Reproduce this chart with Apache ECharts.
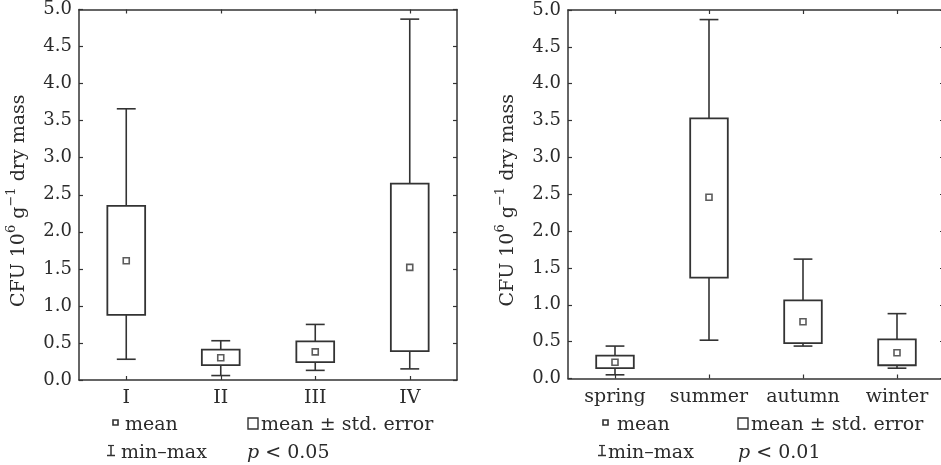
<!DOCTYPE html>
<html><head><meta charset="utf-8">
<script src="https://cdn.jsdelivr.net/npm/echarts@6/dist/echarts.min.js"></script>
<style>html,body{margin:0;padding:0;background:#fff}#c{width:941px;height:465px}</style>
</head><body><div id="c"></div>
<script>
const groups = ['I', 'II', 'III', 'IV'];
const groupMin = [0.28, 0.06, 0.13, 0.15];
const groupSeLow = [0.88, 0.20, 0.24, 0.39];
const groupMean = [1.61, 0.30, 0.38, 1.52];
const groupSeHigh = [2.35, 0.41, 0.52, 2.65];
const groupMax = [3.66, 0.53, 0.75, 4.87];

const seasons = ['spring', 'summer', 'autumn', 'winter'];
const seasonMin = [0.05, 0.52, 0.44, 0.14];
const seasonSeLow = [0.14, 1.37, 0.48, 0.18];
const seasonMean = [0.22, 2.46, 0.77, 0.35];
const seasonSeHigh = [0.31, 3.53, 1.06, 0.53];
const seasonMax = [0.44, 4.87, 1.62, 0.88];

const yTicks = [0, 0.5, 1, 1.5, 2, 2.5, 3, 3.5, 4, 4.5, 5];
const pLeft = '< 0.05';
const pRight = '< 0.01';

const FONT = '"DejaVu Serif", "Liberation Serif", serif';
const INK = '#2b2b2b';
const LINE = '#333';

function boxData(mins, lows, means, highs, maxs) {
  return mins.map((m, i) => [i, m, lows[i], highs[i], maxs[i]]);
}
function meanData(means) { return means.map((v, i) => [i, v]); }

function renderBox(params, api) {
  const i = api.value(0);
  const pMin = api.coord([i, api.value(1)]);
  const pLow = api.coord([i, api.value(2)]);
  const pHigh = api.coord([i, api.value(3)]);
  const pMax = api.coord([i, api.value(4)]);
  const band = api.size([1, 0])[0];
  const bw = band * 0.40, cw = band * 0.20;
  const x = pMin[0];
  const st = { stroke: LINE, lineWidth: 1.6, fill: null };
  return {
    type: 'group',
    children: [
      { type: 'line', shape: { x1: x, y1: pMax[1], x2: x, y2: pHigh[1] }, style: st },
      { type: 'line', shape: { x1: x, y1: pLow[1], x2: x, y2: pMin[1] }, style: st },
      { type: 'line', shape: { x1: x - cw / 2, y1: pMax[1], x2: x + cw / 2, y2: pMax[1] }, style: st },
      { type: 'line', shape: { x1: x - cw / 2, y1: pMin[1], x2: x + cw / 2, y2: pMin[1] }, style: st },
      { type: 'rect', shape: { x: x - bw / 2, y: pHigh[1], width: bw, height: pLow[1] - pHigh[1] }, style: { stroke: LINE, lineWidth: 1.8, fill: '#fff' } }
    ]
  };
}

function catAxis(gridIndex, cats, top) {
  return {
    type: 'category', gridIndex: gridIndex, data: cats, position: top ? 'top' : 'bottom',
    boundaryGap: true,
    axisLine: { show: true, onZero: false, lineStyle: { color: LINE, width: 1.5 } },
    axisTick: { show: true, inside: true, alignWithLabel: true, length: 4, lineStyle: { color: LINE, width: 1.2 } },
    axisLabel: { show: !top, interval: 0, hideOverlap: false, color: INK, fontFamily: FONT, fontSize: 19, margin: 9 },
    splitLine: { show: false }
  };
}
function valAxis(gridIndex, right, withName) {
  const ax = {
    type: 'value', gridIndex: gridIndex, position: right ? 'right' : 'left',
    min: 0, max: 5, interval: 0.5,
    axisLine: { show: true, lineStyle: { color: LINE, width: 1.5 } },
    axisTick: { show: true, inside: true, length: 4, lineStyle: { color: LINE, width: 1.2 } },
    axisLabel: { show: !right, color: INK, fontFamily: FONT, fontSize: 18, margin: 7, formatter: v => v.toFixed(1) },
    splitLine: { show: false }
  };
  if (withName) {
    ax.name = '{a|CFU 10}{s|6}{a| g}{s|\u22121}{a| dry mass}';
    ax.nameLocation = 'middle';
    ax.nameRotate = 90;
    ax.nameGap = 50;
    ax.nameTextStyle = {
      color: INK, fontFamily: FONT, fontSize: 19, padding: [0, 12, 0, 0],
      rich: {
        a: { fontFamily: FONT, fontSize: 19, color: INK, verticalAlign: 'bottom', lineHeight: 24 },
        s: { fontFamily: FONT, fontSize: 13, color: INK, verticalAlign: 'top', lineHeight: 24 }
      }
    };
  }
  return ax;
}

function legend(xSq, xMeanTxt, xRect, xRectTxt, xI, xITxt, xP, pText) {
  const ts = { fill: INK, font: '19px ' + FONT };
  return [
    { type: 'rect', shape: { x: xSq, y: 420, width: 5, height: 5 }, style: { fill: '#fff', stroke: LINE, lineWidth: 1.6 } },
    { type: 'text', x: xMeanTxt, y: 425.5, style: Object.assign({ text: 'mean', textVerticalAlign: 'middle' }, ts) },
    { type: 'rect', shape: { x: xRect, y: 418, width: 10, height: 11 }, style: { fill: '#fff', stroke: LINE, lineWidth: 1.4 } },
    { type: 'text', x: xRectTxt, y: 425.5, style: Object.assign({ text: 'mean \u00b1 std. error', textVerticalAlign: 'middle' }, ts) },
    { type: 'line', shape: { x1: xI + 4, y1: 445, x2: xI + 4, y2: 456 }, style: { stroke: LINE, lineWidth: 1.5 } },
    { type: 'line', shape: { x1: xI + 1, y1: 445.5, x2: xI + 7, y2: 445.5 }, style: { stroke: LINE, lineWidth: 1.2 } },
    { type: 'line', shape: { x1: xI, y1: 455.5, x2: xI + 8, y2: 455.5 }, style: { stroke: LINE, lineWidth: 1.5 } },
    { type: 'text', x: xITxt, y: 453.5, style: Object.assign({ text: 'min\u2013max', textVerticalAlign: 'middle' }, ts) },
    { type: 'text', x: xP, y: 453.5, style: {
        text: '{i|p} {n|' + pText + '}', textVerticalAlign: 'middle', fill: INK, font: '19px ' + FONT,
        rich: { i: { fontFamily: FONT, fontSize: 19, fontStyle: 'italic', fill: INK }, n: { fontFamily: FONT, fontSize: 19, fill: INK } }
      } }
  ];
}

const chart = echarts.init(document.getElementById('c'), null, { renderer: 'canvas' });
chart.setOption({
  backgroundColor: '#fff',
  animation: false,
  grid: [
    { left: 79, top: 9.5, width: 378, height: 370.5, outerBoundsMode: 'none' },
    { left: 568, top: 10, width: 376, height: 368.5, outerBoundsMode: 'none' }
  ],
  xAxis: [catAxis(0, groups, false), catAxis(0, groups, true), catAxis(1, seasons, false), catAxis(1, seasons, true)],
  yAxis: [valAxis(0, false, true), valAxis(0, true, false), valAxis(1, false, true), valAxis(1, true, false)],
  series: [
    { type: 'custom', xAxisIndex: 0, yAxisIndex: 0, renderItem: renderBox, data: boxData(groupMin, groupSeLow, groupMean, groupSeHigh, groupMax), encode: { x: 0, y: [1, 2, 3, 4] } },
    { type: 'scatter', xAxisIndex: 0, yAxisIndex: 0, symbol: 'rect', symbolSize: 6, itemStyle: { color: '#fff', borderColor: LINE, borderWidth: 1.6 }, data: meanData(groupMean) },
    { type: 'custom', xAxisIndex: 2, yAxisIndex: 2, renderItem: renderBox, data: boxData(seasonMin, seasonSeLow, seasonMean, seasonSeHigh, seasonMax), encode: { x: 0, y: [1, 2, 3, 4] } },
    { type: 'scatter', xAxisIndex: 2, yAxisIndex: 2, symbol: 'rect', symbolSize: 6, itemStyle: { color: '#fff', borderColor: LINE, borderWidth: 1.6 }, data: meanData(seasonMean) }
  ],
  graphic: legend(113, 125, 248, 261, 107, 121, 247, pLeft).concat(legend(603, 617, 738, 751, 598, 608, 738, pRight))
});
</script></body></html>
